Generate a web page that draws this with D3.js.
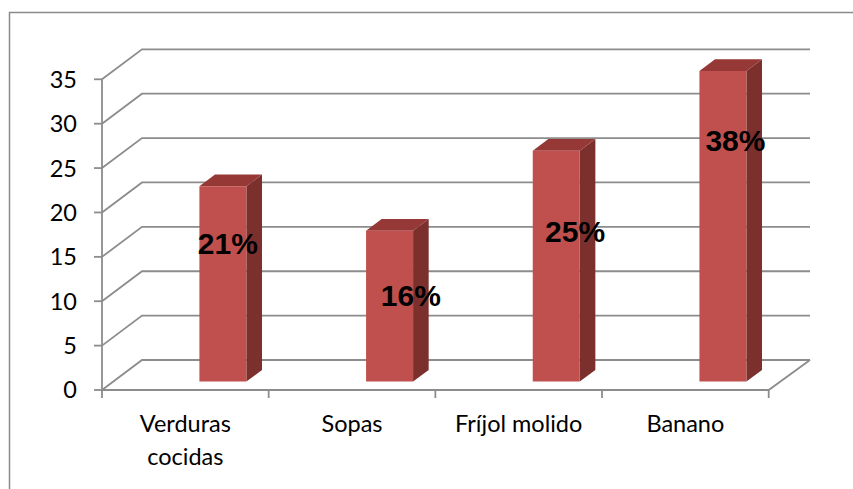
<!DOCTYPE html>
<html>
<head>
<meta charset="utf-8">
<script src="https://cdn.jsdelivr.net/npm/d3@7"></script>
<style>
  html, body { margin: 0; padding: 0; background: #fff; }
  svg { display: block; }
</style>
</head>
<body>
<svg id="chart" width="853" height="489"></svg>
<script>
// Foods and how often each was reported
const categories = ["Verduras cocidas", "Sopas", "Fríjol molido", "Banano"];
const servings = [22, 17, 26, 35];
const shareLabels = ["21%", "16%", "25%", "38%"];
const yTicks = [0, 5, 10, 15, 20, 25, 30, 35];

const svg = d3.select("#chart");
const W = 853, H = 489;

// Oblique 3D frame: front plane plus a receding depth offset
const depth = { dx: 40, dy: -30 };
const x = d3.scaleBand().domain(categories).range([102, 768.7]).padding(0);
const y = d3.scaleLinear().domain([0, 35]).range([390, 79.3]);

const gridColor = "#8c8c8c";
const tickFont = "Lato, 'Open Sans', sans-serif";

// Outer chart frame
svg.append("rect")
  .attr("x", 9.5).attr("y", 12.5)
  .attr("width", W).attr("height", H)
  .attr("fill", "none").attr("stroke", "#8a8a8a").attr("stroke-width", 1.5);

// Walls: a diagonal on the side wall and a horizontal line on the back wall per tick
const grid = svg.append("g").attr("fill", "none").attr("stroke", gridColor).attr("stroke-width", 1.8);
const xEndBack = x.range()[1] + depth.dx + 1.3;
yTicks.forEach(t => {
  const y0 = y(t);
  grid.append("path")
    .attr("d", d3.line()([
      [x.range()[0], y0],
      [x.range()[0] + depth.dx, y0 + depth.dy],
      [xEndBack, y0 + depth.dy]
    ]));
});
// Floor front edge and right edge
grid.append("path").attr("d", d3.line()([
  [x.range()[0], y(0)], [x.range()[1], y(0)], [xEndBack, y(0) + depth.dy]
]));

// Vertical axis with ticks
const yAxis = svg.append("g");
yAxis.append("line")
  .attr("x1", 102).attr("x2", 102).attr("y1", y(35)).attr("y2", y(0))
  .attr("stroke", gridColor).attr("stroke-width", 1.8);
yAxis.selectAll("line.tick").data(yTicks).join("line")
  .attr("class", "tick")
  .attr("x1", 94).attr("x2", 102)
  .attr("y1", d => y(d)).attr("y2", d => y(d))
  .attr("stroke", gridColor).attr("stroke-width", 1.8);
yAxis.selectAll("text").data(yTicks).join("text")
  .attr("x", 77).attr("y", d => y(d))
  .attr("dy", "0.36em")
  .attr("text-anchor", "end")
  .attr("font-family", tickFont).attr("font-size", 23.5)
  .attr("fill", "#000")
  .text(d => d);

// Category axis tick marks at band edges
const edges = categories.map(c => x(c)).concat([x.range()[1]]);
svg.append("g").selectAll("line").data(edges).join("line")
  .attr("x1", d => d).attr("x2", d => d)
  .attr("y1", y(0)).attr("y2", y(0) + 8)
  .attr("stroke", gridColor).attr("stroke-width", 1.8);

// Category labels, wrapped onto two lines where needed
const catLabels = svg.append("g")
  .attr("font-family", tickFont).attr("font-size", 23.5).attr("fill", "#000")
  .attr("text-anchor", "middle");
const wrapped = { "Verduras cocidas": ["Verduras", "cocidas"] };
categories.forEach(c => {
  const lines = wrapped[c] || [c];
  const t = catLabels.append("text")
    .attr("x", x(c) + x.bandwidth() / 2)
    .attr("y", 432);
  lines.forEach((ln, i) => {
    t.append("tspan")
      .attr("x", x(c) + x.bandwidth() / 2)
      .attr("dy", i === 0 ? 0 : 33)
      .text(ln);
  });
});

// 3D columns: front face, top and right side
const barFront = 0.28;       // depth fraction where the column face sits
const barDepth = 0.39;       // column depth as a fraction of the floor
const barOffset = 86.2;      // from band start to column on the front plane
const barWidth = 47;
const colors = { front: "#c0504d", side: "#7b302e", top: "#953836" };

function proj(px, v, d) {
  return [px + d * depth.dx, y(v) + d * depth.dy];
}

const bars = svg.append("g");
categories.forEach((c, i) => {
  const v = servings[i];
  const x0 = x(c) + barOffset, x1 = x0 + barWidth;
  const d0 = barFront, d1 = barFront + barDepth;
  const g = bars.append("g");
  // right side face
  g.append("path")
    .attr("d", d3.line()([proj(x1, 0, d0), proj(x1, 0, d1), proj(x1, v, d1), proj(x1, v, d0)]) + "Z")
    .attr("fill", colors.side);
  // top face
  g.append("path")
    .attr("d", d3.line()([proj(x0, v, d0), proj(x0, v, d1), proj(x1, v, d1), proj(x1, v, d0)]) + "Z")
    .attr("fill", colors.top);
  // front face
  g.append("path")
    .attr("d", d3.line()([proj(x0, 0, d0), proj(x1, 0, d0), proj(x1, v, d0), proj(x0, v, d0)]) + "Z")
    .attr("fill", colors.front);
});

// Percentage labels placed inside the columns
const labelNudge = [[4.9, 67.3], [21.3, 75.6], [18.8, 91.7], [12.5, 80.3]];
svg.append("g")
  .attr("font-family", "'Liberation Sans', Arial, sans-serif")
  .attr("font-weight", "bold").attr("font-size", 30)
  .attr("text-anchor", "middle").attr("fill", "#000")
  .selectAll("text").data(categories).join("text")
  .attr("x", (c, i) => proj(x(c) + barOffset + barWidth / 2, servings[i], barFront)[0] + labelNudge[i][0])
  .attr("y", (c, i) => proj(x(c) + barOffset, servings[i], barFront)[1] + labelNudge[i][1])
  .text((c, i) => shareLabels[i]);
</script>
</body>
</html>
